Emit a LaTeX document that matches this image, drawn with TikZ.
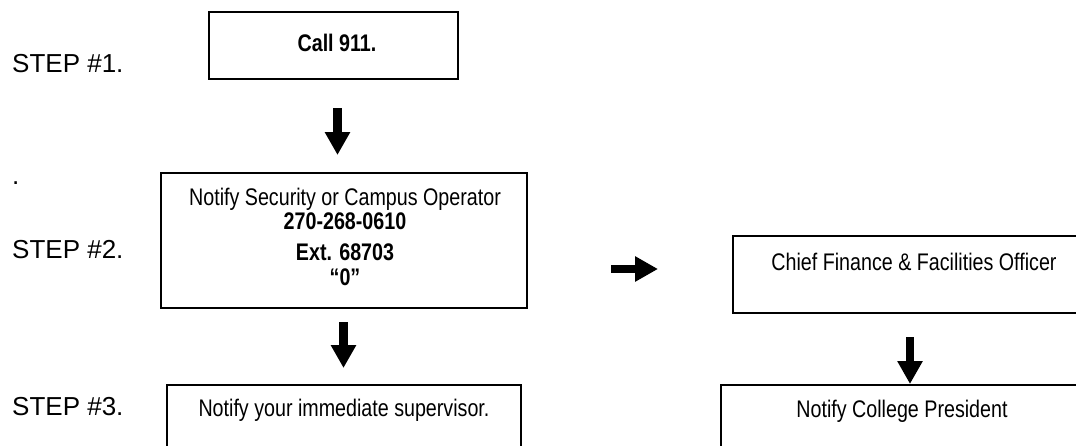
\documentclass[tikz,border=0pt]{standalone}
\usepackage{fontspec}
\setmainfont{Liberation Sans}
\newfontfamily\narrowfont[FakeStretch=0.82]{Liberation Sans}
\usetikzlibrary{arrows.meta}
\tikzset{
  box/.style={draw=black, line width=1.6pt, rectangle, inner sep=0pt},
  steplabel/.style={anchor=base west, inner sep=0pt, font=\fontsize{26}{30}\selectfont},
  boxtext/.style={anchor=base, inner sep=0pt, font=\narrowfont\fontsize{24}{26}\selectfont},
  boldtext/.style={anchor=base, inner sep=0pt, font=\narrowfont\bfseries\fontsize{24}{26}\selectfont},
  arr/.style={line width=8.5pt, -{Triangle[length=23pt,width=24pt]}}
}
\begin{document}
\begin{tikzpicture}[x=1pt,y=-1pt]
\useasboundingbox (0,0) rectangle (1076,445);
\clip (0,0) rectangle (1076,445);
\fill[white] (0,0) rectangle (1076,445);

% step labels
\node[steplabel] (s1) at (12,72) {STEP \#1.};
\node[steplabel] (dot) at (12,184) {.};
\node[steplabel] (s2) at (12,258) {STEP \#2.};
\node[steplabel] (s3) at (12,415) {STEP \#3.};

% boxes
\node[box, minimum width=249pt, minimum height=67pt] (b1) at (333.5,45.5) {};
\node[box, minimum width=366pt, minimum height=135pt] (b2) at (344,240.5) {};
\node[box, minimum width=354pt, minimum height=90pt] (b3) at (344,430) {};
\node[box, minimum width=362pt, minimum height=77pt] (b4) at (914,274.5) {};
\node[box, minimum width=362pt, minimum height=90pt] (b5) at (902,430) {};

% texts
\node[boldtext] (t1) at (337,51) {Call 911.};
\node[boxtext] (t2a) at (345,205) {Notify Security or Campus Operator};
\node[boldtext] (t2b) at (345,229) {270-268-0610};
\node[boldtext] (t2c) at (345,260) {Ext. 68703};
\node[boldtext] (t2d) at (345,285) {“0”};
\node[boxtext] (t3) at (344,416) {Notify your immediate supervisor.};
\node[boxtext] (t4) at (914,270) {Chief Finance \& Facilities Officer};
\node[boxtext] (t5) at (902,417) {Notify College President};

% arrows
\coordinate (a1s) at (337.5,108);
\coordinate (a1e) at (337.5,155);
\coordinate (a2s) at (343.5,322);
\coordinate (a2e) at (343.5,368);
\coordinate (a3s) at (611,269);
\coordinate (a3e) at (658,269);
\coordinate (a4s) at (910,337);
\coordinate (a4e) at (910,384);
\draw[arr] (a1s) -- (a1e);
\draw[arr] (a2s) -- (a2e);
\draw[arr] (a3s) -- (a3e);
\draw[arr] (a4s) -- (a4e);
\end{tikzpicture}
\end{document}
